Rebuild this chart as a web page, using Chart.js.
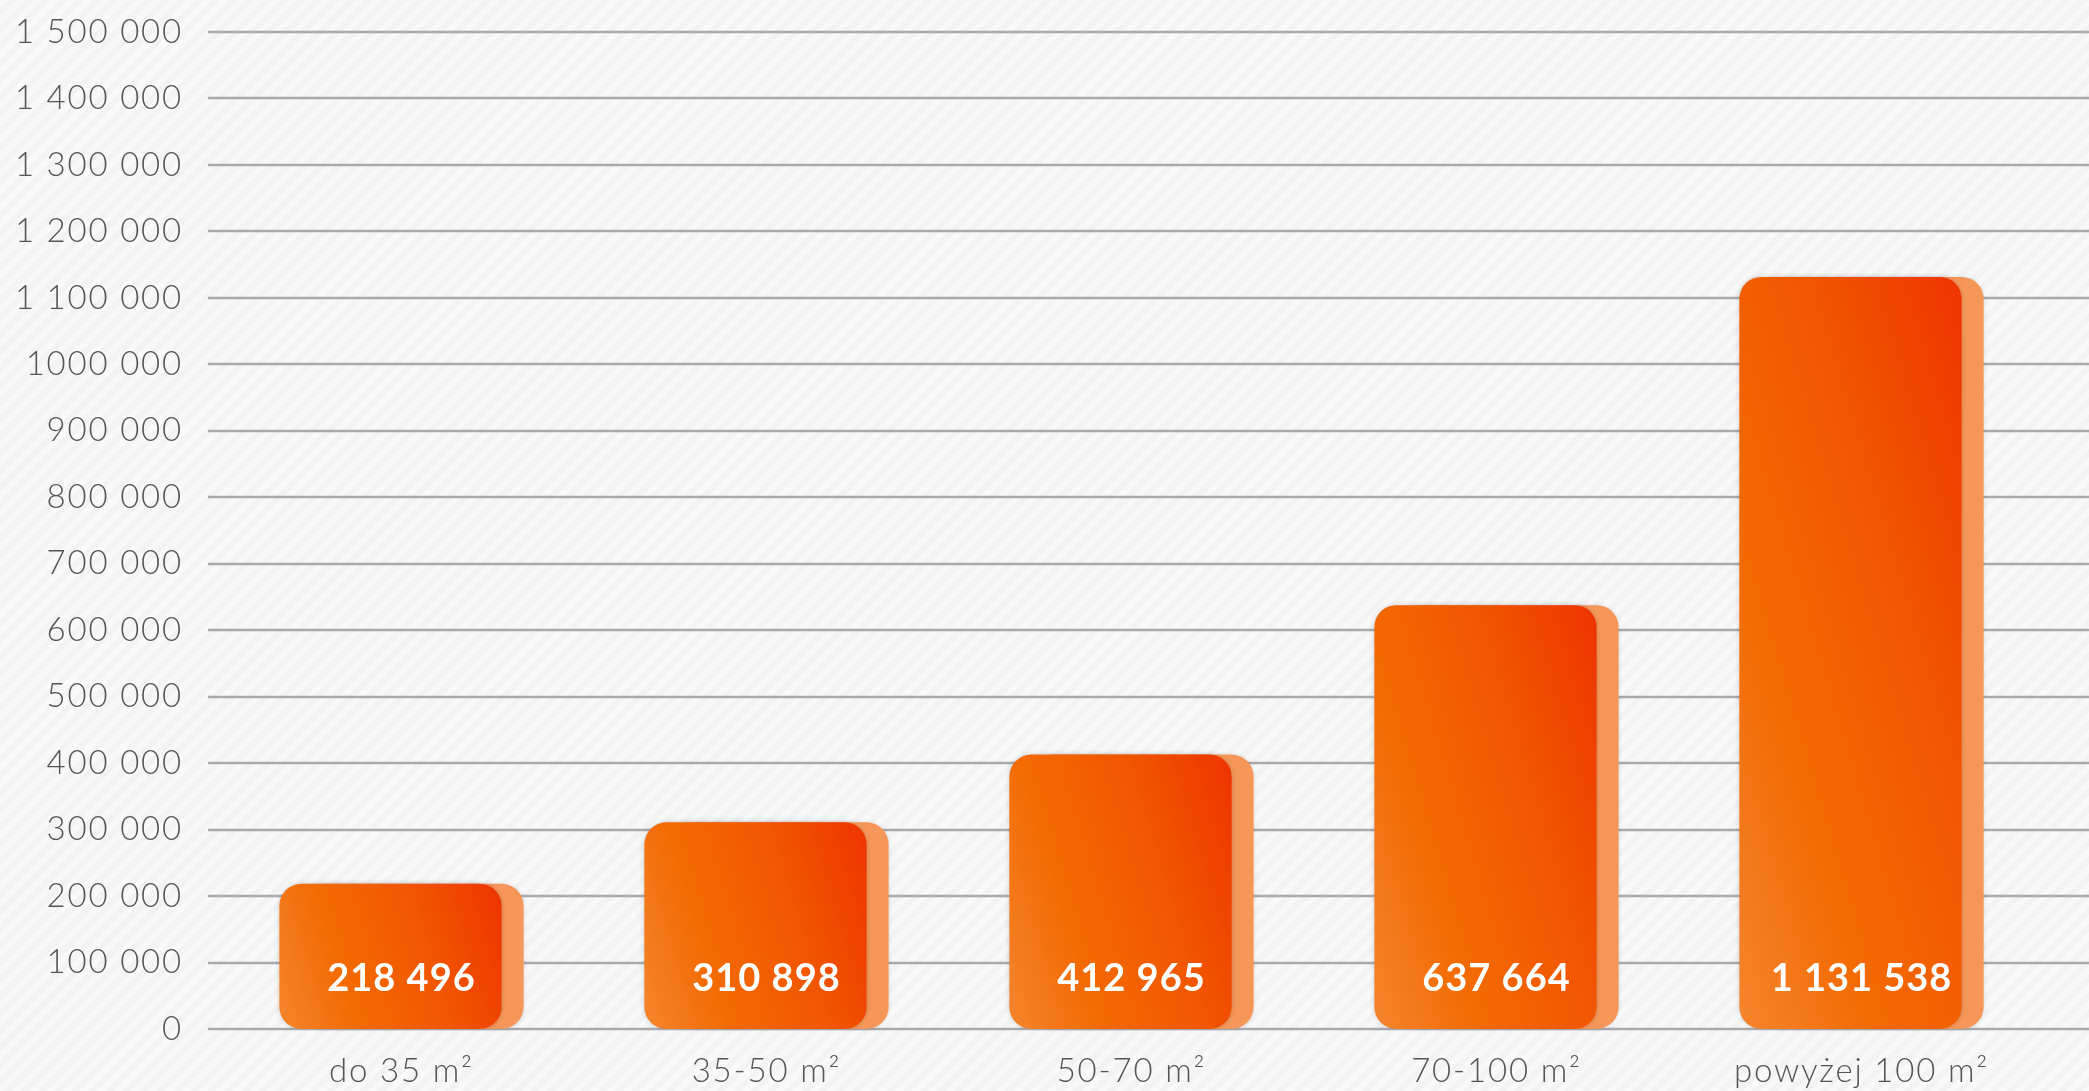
<!DOCTYPE html>
<html>
<head>
<meta charset="utf-8">
<script src="https://cdn.jsdelivr.net/npm/chart.js@4.4.1/dist/chart.umd.min.js"></script>
<style>
    html, body { margin: 0; padding: 0; }
    body {
        width: 2089px; height: 1091px; overflow: hidden;
        background: repeating-linear-gradient(135deg, #f9f9f9 0 6px, #f3f3f3 6px 12px);
    }
</style>
</head>
<body>
<canvas id="myChart" width="2089" height="1091"></canvas>
<script>
const categories = ['do 35 m²', '35-50 m²', '50-70 m²', '70-100 m²', 'powyżej 100 m²'];
const prices = [218496, 310898, 412965, 637664, 1131538];
const priceLabels = ['218 496', '310 898', '412 965', '637 664', '1 131 538'];
const yTickLabels = ['0', '100 000', '200 000', '300 000', '400 000', '500 000', '600 000', '700 000',
    '800 000', '900 000', '1000 000', '1 100 000', '1 200 000', '1 300 000', '1 400 000', '1 500 000'];

const SHIFT = 22; // the pale bar behind sits this far to the right

// orange -> red gradient, slightly tilted, over each bar's own box
function barGradient(context) {
    const chart = context.chart;
    const area = chart.chartArea;
    const xs = chart.scales.x, ys = chart.scales.y;
    if (!area || !xs || !ys || context.dataIndex === undefined) return '#f36a02';
    const w = (area.right - area.left) / categories.length * 0.609;
    const left = xs.getPixelForValue(context.dataIndex) - w / 2;
    const bottom = ys.getPixelForValue(0);
    const h = bottom - ys.getPixelForValue(prices[context.dataIndex]);
    const k = 0.3;
    const len = (w + k * h) / (1 + k * k);
    const g = chart.ctx.createLinearGradient(left, bottom, left + len, bottom - k * len);
    g.addColorStop(0, '#f5852e');
    g.addColorStop(0.3, '#f36a02');
    g.addColorStop(0.65, '#f15600');
    g.addColorStop(1, '#ee3400');
    return g;
}

const barDeco = {
    id: 'barDeco',
    beforeDraw(chart) {
        // the axis font of the original is a wide one, spread Lato a bit
        chart.ctx.letterSpacing = '1.8px';
    },
    beforeDatasetsDraw(chart) {
        const ctx = chart.ctx;
        const y = chart.scales.y;
        const area = chart.chartArea;
        ctx.letterSpacing = '0px';
        ctx.save();
        // grid lines go on to the right edge
        ctx.strokeStyle = '#a9a9ae';
        ctx.lineWidth = 2.5;
        y.ticks.forEach(t => {
            const py = Math.round(y.getPixelForValue(t.value));
            ctx.beginPath();
            ctx.moveTo(area.left, py);
            ctx.lineTo(chart.width, py);
            ctx.stroke();
        });
        // pale back bars
        ctx.fillStyle = '#f6975a';
        ctx.shadowColor = 'rgba(0,0,0,0.12)';
        ctx.shadowBlur = 4;
        chart.getDatasetMeta(0).data.forEach(bar => {
            ctx.beginPath();
            ctx.roundRect(bar.x - bar.width / 2 + SHIFT, bar.y, bar.width, bar.base - bar.y, 22);
            ctx.fill();
        });
        ctx.restore();
    },
    beforeDatasetDraw(chart) {
        chart.ctx.save();
        chart.ctx.shadowColor = 'rgba(0,0,0,0.18)';
        chart.ctx.shadowBlur = 5;
    },
    afterDatasetDraw(chart) {
        chart.ctx.restore();
    },
    afterDatasetsDraw(chart) {
        const ctx = chart.ctx;
        ctx.save();
        ctx.fillStyle = '#ffffff';
        ctx.font = 'bold 38px Lato';
        ctx.letterSpacing = '1px';
        ctx.textAlign = 'center';
        ctx.textBaseline = 'alphabetic';
        chart.getDatasetMeta(0).data.forEach((bar, i) => {
            ctx.fillText(priceLabels[i], bar.x + SHIFT / 2, bar.base - 38);
        });
        ctx.restore();
    }
};

const ctx = document.getElementById('myChart');

new Chart(ctx, {
    type: 'bar',
    data: {
        labels: categories,
        datasets: [{
            data: prices,
            backgroundColor: barGradient,
            borderRadius: 22,
            borderSkipped: false,
            categoryPercentage: 1,
            barPercentage: 0.609
        }]
    },
    options: {
        responsive: false,
        animation: false,
        layout: { padding: { top: 32, right: 56, left: 0, bottom: 0 } },
        plugins: {
            legend: { display: false },
            tooltip: { enabled: false }
        },
        scales: {
            x: {
                grid: { display: false, drawTicks: false },
                border: { display: false },
                ticks: {
                    color: '#555555',
                    font: { family: 'Lato', size: 33, weight: 300 },
                    padding: 23,
                    labelOffset: SHIFT / 2,
                    maxRotation: 0
                },
                afterFit(scale) { scale.height = 62; }
            },
            y: {
                min: 0,
                max: 1500000,
                grid: { display: false, drawTicks: false },
                border: { display: false },
                ticks: {
                    stepSize: 100000,
                    color: '#555555',
                    font: { family: 'Lato', size: 33, weight: 300 },
                    padding: 25,
                    callback: v => yTickLabels[Math.round(v / 100000)]
                },
                afterFit(scale) {
                    scale.width = 208;
                    scale.paddingTop = 0;
                    scale.paddingBottom = 0;
                }
            }
        }
    },
    plugins: [barDeco]
});
</script>
</body>
</html>
